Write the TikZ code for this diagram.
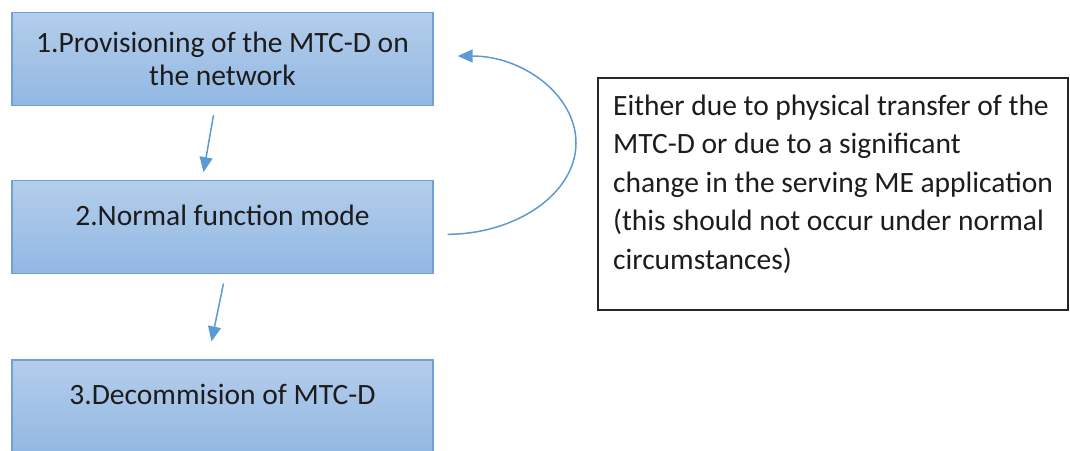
\documentclass[tikz,border=0pt]{standalone}
\usepackage{fontspec}
\usepackage{xcolor}
\setmainfont{Carlito}
\usetikzlibrary{positioning,arrows.meta}
\definecolor{stagetop}{RGB}{180,205,235}
\definecolor{stagebottom}{RGB}{146,184,227}
\definecolor{stageline}{RGB}{112,160,218}
\definecolor{flowblue}{RGB}{91,155,213}
\definecolor{inkgray}{RGB}{28,28,28}

\begin{document}
\begin{tikzpicture}[
    x=1pt, y=-1pt,
    every node/.style={align=center, font=\fontsize{29.5}{33}\selectfont, text=inkgray},
    stage/.style={rectangle, minimum width=421pt, minimum height=93pt, inner sep=0pt, draw=stageline, line width=1.3pt, top color=stagetop, bottom color=stagebottom},
    onerow/.style={text depth=24pt},
    note/.style={rectangle, minimum width=470pt, minimum height=232pt, align=left, draw=black!85, line width=1.5pt, font=\fontsize{29.5}{38.5}\selectfont},
    arrow/.style={line width=1.5pt, draw=flowblue, -{Triangle[length=15pt,width=13pt]}}
]
\clip (0,0) rectangle (1070,450);

% Lifecycle stages
\node[stage] (provision) at (222.5,59) {1.Provisioning of the MTC-D on\\the network};
\node[stage, onerow, below=74pt of provision] (normal) {2.Normal function mode};
\node[stage, onerow, below=85pt of normal] (decommission) {3.Decommision of MTC-D};

% Explanation of the loop back
\node[note, text depth=24pt] (reason) at (833,194) {Either due to physical transfer of the\\MTC-D or due to a significant\\change in the serving ME application\\(this should not occur under normal\\circumstances)};

% Connections
\draw[arrow] ([xshift=-9pt,yshift=-9pt]provision.south) -- ([xshift=-19pt,yshift=8pt]normal.north);
\draw[arrow] ([xshift=1pt,yshift=-9pt]normal.south) -- ([xshift=-11pt,yshift=18pt]decommission.north);
\draw[arrow] ([xshift=14pt,yshift=-7pt]normal.east) .. controls (517,234) and (576,193) .. (576,143)
    .. controls (576,95) and (523,56) .. ([xshift=24pt,yshift=3pt]provision.east);

\end{tikzpicture}
\end{document}
